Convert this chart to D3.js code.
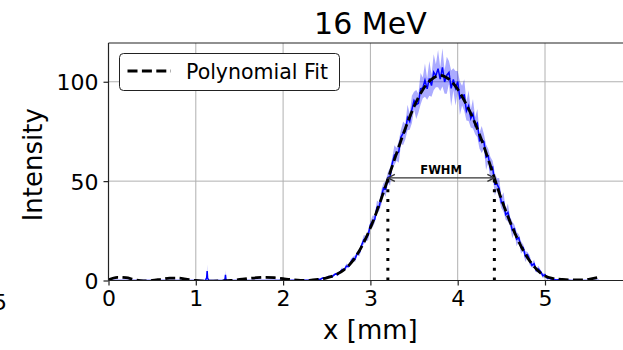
<!DOCTYPE html>
<html>
<head>
<meta charset="utf-8">
<script src="https://cdn.jsdelivr.net/npm/d3@7"></script>
<style>
  html, body { margin: 0; padding: 0; background: #fff; overflow: hidden; }
  text { font-family: "DejaVu Sans", sans-serif; }
</style>
</head>
<body>
<svg id="chart" width="623" height="350"></svg>
<script>
// ---- data -------------------------------------------------------------
const chartTitle = "16 MeV";
const xLabel = "x [mm]";
const yLabel = "Intensity";
const legendLabel = "Polynomial Fit";
const xTicks = [0, 1, 2, 3, 4, 5];
const yTicks = [0, 50, 100];

// polynomial fit, sampled every 0.1 mm
const fitX = [0.0,0.1,0.2,0.3,0.4,0.5,0.6,0.7,0.8,0.9,1.0,1.1,1.2,1.3,1.4,1.5,1.6,1.7,1.8,1.9,
  2.0,2.1,2.2,2.3,2.4,2.5,2.6,2.7,2.8,2.9,3.0,3.1,3.2,3.3,3.4,3.5,3.6,3.7,3.8,3.9,
  4.0,4.1,4.2,4.3,4.4,4.5,4.6,4.7,4.8,4.9,5.0,5.1,5.2,5.3,5.4,5.5,5.6];
const fitY = [0.3,1.6,1.4,0.4,-0.2,0.0,0.6,1.2,1.2,0.6,0.0,-0.3,-0.3,-0.2,0.0,0.5,1.0,1.4,1.6,1.4,
  0.9,0.4,0.1,0.1,0.5,1.3,2.8,5.5,10.0,17.0,26.5,38.0,51.0,64.0,76.5,87.5,96.0,101.2,103.2,101.3,
  96.2,88.5,79.0,67.5,54.3,41.0,29.5,19.5,11.5,5.8,2.3,1.0,0.5,0.3,0.3,0.6,1.5];

// measured profile (mean) and its spread
const measX = [0.000,0.500,1.000,1.110,1.125,1.130,1.135,1.150,1.320,1.335,1.340,1.345,1.360,1.800,2.200,2.375,
  2.400,2.425,2.450,2.475,2.500,2.525,2.550,2.575,2.600,2.625,2.650,2.675,2.700,2.725,2.750,2.775,2.800,2.825,2.850,2.875,
  2.900,2.925,2.950,2.975,3.000,3.025,3.050,3.075,3.100,3.125,3.150,3.175,3.200,3.225,3.250,3.275,3.300,3.325,3.350,3.375,
  3.400,3.425,3.450,3.475,3.500,3.525,3.550,3.575,3.600,3.625,3.650,3.675,3.700,3.725,3.750,3.775,3.800,3.825,3.850,3.875,
  3.900,3.925,3.950,3.975,4.000,4.025,4.050,4.075,4.100,4.125,4.150,4.175,4.200,4.225,4.250,4.275,4.300,4.325,4.350,4.375,
  4.400,4.425,4.450,4.475,4.500,4.525,4.550,4.575,4.600,4.625,4.650,4.675,4.700,4.725,4.750,4.775,4.800,4.825,4.850,4.875,
  4.900,4.925,4.950,4.975,5.000,5.025,5.050,5.075,5.100,5.125,5.150,5.175,5.200,5.225,5.250,5.275,5.300,5.325,5.350,
  5.400,5.500,5.620];
const measY = [0,0,0,0,1.5,4.8,1.2,0,0,0.8,2.8,0.6,0,0,0.1,0.3,
  0.6,0.5,1.2,1.0,1.5,2.0,1.7,2.5,3.3,3.0,
  4.3,5.4,5.2,7.3,7.1,9.2,11.0,11.0,13.7,14.1,
  17.9,20.6,21.1,22.9,28.0,29.7,30.8,36.9,37.1,41.8,
  46.5,46.0,51.8,52.3,58.9,63.1,63.5,64.8,72.2,74.1,
  74.9,82.0,80.0,86.0,90.5,88.5,89.2,96.5,96.9,100.8,
  96.4,101.7,98.1,104.8,103.0,106.6,101.3,107.2,99.9,103.3,
  104.7,96.7,101.2,96.7,100.1,91.7,93.0,93.3,85.3,87.9,
  81.5,83.9,77.9,79.2,70.3,70.9,69.9,62.0,62.7,56.1,
  57.0,48.4,48.5,46.3,39.2,39.5,33.1,34.2,29.8,25.4,
  26.1,20.8,21.5,16.6,16.6,12.1,13.0,10.2,7.6,8.4,
  5.0,5.8,4.4,2.4,2.9,1.2,1.1,0.7,0.6,0.3,
  0.4,0.2,0.2,0.1,0.1,0.1,0.0,0.0,0.0,
  0,0,0];
const measSpread = [0.1,0.1,0.1,0.1,1.0,3.3,0.8,0.1,0.1,0.6,2.5,0.5,0.1,0.1,0.1,0.2,
  0.3,0.5,0.2,0.6,0.3,0.7,0.3,0.8,0.4,0.9,
  0.5,1.1,0.6,1.3,0.7,1.5,0.9,1.7,1.0,1.9,
  1.2,2.3,1.3,2.6,1.6,3.0,1.8,3.4,2.1,3.7,
  2.5,3.9,2.7,4.6,2.9,5.0,3.2,5.5,3.6,5.9,
  3.9,6.4,4.2,6.9,4.5,7.3,4.8,7.9,5.2,8.4,
  5.4,8.8,5.6,9.1,5.8,9.4,6.0,9.6,5.9,9.3,
  5.8,9.0,5.6,8.7,5.3,8.4,5.0,8.0,4.8,7.7,
  4.5,7.4,4.3,7.1,4.0,6.8,3.8,6.4,3.5,6.1,
  3.3,5.7,3.0,5.3,2.8,4.9,2.5,4.5,2.3,4.1,
  2.0,3.6,1.8,3.2,1.5,2.8,1.3,2.4,1.1,2.0,
  0.9,1.6,0.7,1.3,0.6,1.0,0.5,0.7,0.4,0.5,
  0.3,0.3,0.2,0.2,0.1,0.1,0.1,0.1,0.1,
  0.1,0.1,0.1];

// full width at half maximum of the fit
const fwhmBounds = [3.20, 4.42];
const halfMax = 51.6;

// ---- layout -------------------------------------------------------------
const svg = d3.select("#chart");
const plot = { left: 108.5, right: 632.3, top: 43, bottom: 280.5 };

const x = d3.scaleLinear().domain([0, 6]).range([plot.left, plot.right]);
const y = d3.scaleLinear().domain([0, 119.5]).range([plot.bottom, plot.top]);

svg.append("defs").append("clipPath").attr("id", "plot-clip")
  .append("rect")
  .attr("x", plot.left).attr("y", plot.top)
  .attr("width", plot.right - plot.left).attr("height", plot.bottom - plot.top);

// grid
const grid = svg.append("g");
grid.selectAll("line.gx").data(xTicks).join("line")
  .attr("x1", d => x(d)).attr("x2", d => x(d))
  .attr("y1", plot.top).attr("y2", plot.bottom)
  .attr("stroke", "#b0b0b0").attr("stroke-width", 1);
grid.selectAll("line.gy").data(yTicks).join("line")
  .attr("x1", plot.left).attr("x2", plot.right)
  .attr("y1", d => y(d)).attr("y2", d => y(d))
  .attr("stroke", "#b0b0b0").attr("stroke-width", 1);

const meas = measX.map((v, i) => ({ x: v, y: measY[i], s: measSpread[i] }));
const fit = fitX.map((v, i) => ({ x: v, y: fitY[i] }));

const layer = svg.append("g").attr("clip-path", "url(#plot-clip)");

// spread band
layer.append("path").datum(meas)
  .attr("d", d3.area().x(d => x(d.x)).y0(d => y(d.y - d.s)).y1(d => y(d.y + d.s)))
  .attr("fill", "#0000ff").attr("fill-opacity", 0.33).attr("stroke", "none");

// measured profile
layer.append("path").datum(meas)
  .attr("d", d3.line().x(d => x(d.x)).y(d => y(d.y)))
  .attr("fill", "none").attr("stroke", "#0000ff").attr("stroke-width", 1.5);

// fit
layer.append("path").datum(fit)
  .attr("d", d3.line().curve(d3.curveMonotoneX).x(d => x(d.x)).y(d => y(d.y)))
  .attr("fill", "none").attr("stroke", "#000").attr("stroke-width", 2.8)
  .attr("stroke-dasharray", "10,4.4");

// FWHM markers
layer.selectAll("line.fw").data(fwhmBounds).join("line")
  .attr("x1", d => x(d)).attr("x2", d => x(d))
  .attr("y1", y(0)).attr("y2", y(halfMax))
  .attr("stroke", "#000").attr("stroke-width", 3)
  .attr("stroke-dasharray", "3,6.8");

const ay = y(halfMax);
const ax0 = x(fwhmBounds[0]), ax1 = x(fwhmBounds[1]);
const arrow = svg.append("g").attr("stroke", "#333").attr("stroke-width", 1.3).attr("fill", "none");
arrow.append("line").attr("x1", ax0).attr("x2", ax1).attr("y1", ay).attr("y2", ay);
arrow.append("path").attr("d", `M${ax0 + 7},${ay - 3.5} L${ax0},${ay} L${ax0 + 7},${ay + 3.5}`);
arrow.append("path").attr("d", `M${ax1 - 7},${ay - 3.5} L${ax1},${ay} L${ax1 - 7},${ay + 3.5}`);
svg.append("text")
  .attr("x", (ax0 + ax1) / 2).attr("y", ay - 4)
  .attr("text-anchor", "middle").attr("font-size", 11.5).attr("font-weight", "bold")
  .text("FWHM");

// spines
const spine = svg.append("g").attr("stroke", "#222").attr("stroke-width", 1.2);
spine.append("line").attr("x1", plot.left).attr("x2", plot.right).attr("y1", plot.top).attr("y2", plot.top);
spine.append("line").attr("x1", plot.left).attr("x2", plot.right).attr("y1", plot.bottom).attr("y2", plot.bottom);
spine.append("line").attr("x1", plot.left).attr("x2", plot.left).attr("y1", plot.top).attr("y2", plot.bottom);

// axes
const xAxis = d3.axisBottom(x).tickValues(xTicks).tickFormat(d3.format("d")).tickSizeOuter(0).tickSize(5).tickPadding(5);
const yAxis = d3.axisLeft(y).tickValues(yTicks).tickFormat(d3.format("d")).tickSizeOuter(0).tickSize(5).tickPadding(5);
const gx = svg.append("g").attr("transform", `translate(0,${plot.bottom})`).call(xAxis);
const gy = svg.append("g").attr("transform", `translate(${plot.left},0)`).call(yAxis);
[gx, gy].forEach(g => {
  g.select(".domain").remove();
  g.selectAll(".tick line").attr("stroke", "#222").attr("stroke-width", 1.2);
  g.selectAll(".tick text").attr("font-size", 22).attr("fill", "#000")
    .attr("font-family", "DejaVu Sans, sans-serif");
});
gx.selectAll(".tick text").attr("dy", "0.71em");
gy.selectAll(".tick text").attr("dy", "0.36em");

// neighbouring tick label at the left edge
svg.append("text").attr("x", 7).attr("y", 310).attr("text-anchor", "end")
  .attr("font-size", 22).text("5");

// labels
svg.append("text").attr("x", (plot.left + plot.right) / 2).attr("y", 339)
  .attr("text-anchor", "middle").attr("font-size", 26).text(xLabel);
svg.append("text")
  .attr("transform", `translate(42,${(plot.top + plot.bottom) / 2 + 3}) rotate(-90)`)
  .attr("text-anchor", "middle").attr("font-size", 26).text(yLabel);
svg.append("text").attr("x", (plot.left + plot.right) / 2).attr("y", 34)
  .attr("text-anchor", "middle").attr("font-size", 30).text(chartTitle);

// legend
const lg = svg.append("g");
lg.append("rect").attr("x", 119.5).attr("y", 53.5).attr("width", 220).attr("height", 37)
  .attr("rx", 4).attr("fill", "#fff").attr("stroke", "#222").attr("stroke-width", 1);
lg.append("line").attr("x1", 127.5).attr("x2", 171).attr("y1", 71).attr("y2", 71)
  .attr("stroke", "#000").attr("stroke-width", 2.8).attr("stroke-dasharray", "10,4.4");
lg.append("text").attr("x", 186).attr("y", 79).attr("font-size", 20.5).text(legendLabel);
</script>
</body>
</html>
